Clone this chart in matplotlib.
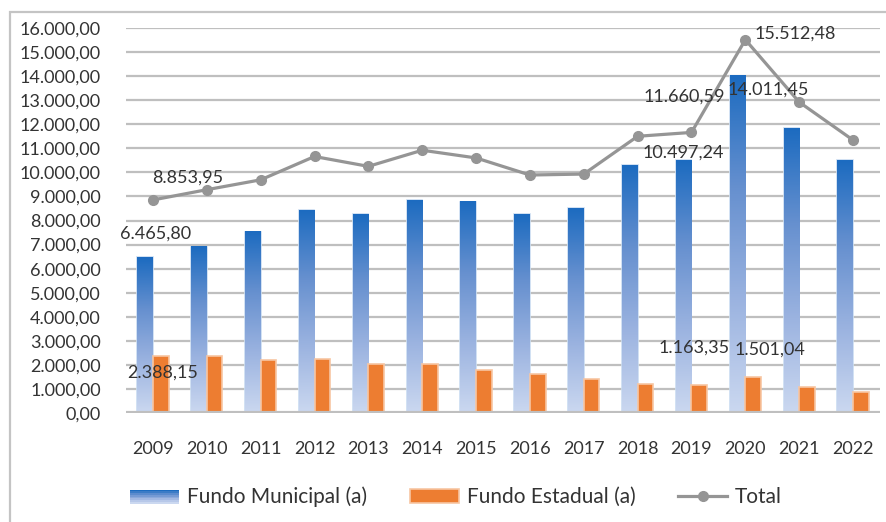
import numpy as np
import matplotlib
matplotlib.use("Agg")
import matplotlib.pyplot as plt
from matplotlib.patches import Rectangle
from matplotlib.lines import Line2D
from matplotlib.legend_handler import HandlerBase
from matplotlib.colors import LinearSegmentedColormap

# data
anos = ['2009', '2010', '2011', '2012', '2013', '2014', '2015', '2016',
        '2017', '2018', '2019', '2020', '2021', '2022']
fundo_municipal = [6465.80, 6900, 7530, 8430, 8260, 8850, 8780, 8250,
                   8500, 10300, 10497.24, 14011.45, 11830, 10510]
fundo_estadual = [2388.15, 2380, 2190, 2260, 2050, 2050, 1780, 1640,
                  1430, 1220, 1163.35, 1501.04, 1080, 870]
total = [8853.95, 9280, 9690, 10660, 10250, 10920, 10600, 9890,
         9930, 11500, 11660.59, 15512.48, 12920, 11340]
y_ticks = list(range(0, 16001, 1000))

plt.rcParams['font.family'] = ['Lato', 'DejaVu Sans']
fs = 13
txt = '#333333'
grid_c = '#bfbfbf'


def fmt(v):
    s = f'{v:,.2f}'
    return s.replace(',', 'X').replace('.', ',').replace('X', '.')


blue_cmap = LinearSegmentedColormap.from_list(
    'azul', ['#cbd8f0', '#9bb3e0', '#6690cf', '#1c6bc0'])

fig = plt.figure(figsize=(8.87, 5.22), dpi=100)
W, H = 887, 522
ax = fig.add_axes([126 / W, 109 / H, (880 - 126) / W, (413 - 28) / H])

x = np.arange(len(anos))
bw = 0.29
xm = x - bw / 2
xe = x + bw / 2

# municipal bars with gradient
ax.bar(xm, fundo_municipal, width=bw, color='none', edgecolor='#c9dcf1',
       linewidth=1.2, zorder=2)
grad = np.linspace(0, 1, 256).reshape(-1, 1)
for xi, v in zip(xm, fundo_municipal):
    ax.imshow(grad, cmap=blue_cmap, origin='lower', aspect='auto',
              extent=[xi - bw / 2, xi + bw / 2, 0, v], zorder=2.5)

ax.bar(xe, fundo_estadual, width=bw, color='#ed7d31', edgecolor='#f7c6a3',
       linewidth=1.2, zorder=3)

ax.plot(x, total, color='#959595', lw=2.3, marker='o', markersize=7,
        zorder=4)

ax.set_xlim(-0.5, len(anos) - 0.5)
ax.set_ylim(0, 16000)
ax.set_yticks(y_ticks)
ax.set_yticklabels([fmt(v) for v in y_ticks])
ax.set_xticks(x)
ax.set_xticklabels(anos)
ax.tick_params(axis='y', length=0, pad=18, labelsize=fs, labelcolor=txt)
ax.tick_params(axis='x', length=0, pad=20, labelsize=fs, labelcolor=txt)
for s in ax.spines.values():
    s.set_visible(False)
ax.yaxis.grid(True, color=grid_c, lw=1.6, zorder=0)
ax.set_axisbelow(True)
ax.axhline(0, color=grid_c, lw=3, zorder=5)

# data labels (offsets in pixels)
labels = [
    (xm[0], fundo_municipal[0], 10, 24),
    (x[0], total[0], 35, 22),
    (xe[0], fundo_estadual[0], 2, -17),
    (xm[10], fundo_municipal[10], 0, 8),
    (x[10], total[10], -7, 36),
    (xe[10], fundo_estadual[10], -5, 37),
    (xm[11], fundo_municipal[11], 31, -14),
    (x[11], total[11], 50, 6),
    (xe[11], fundo_estadual[11], 17, 27),
]
for lx, ly, dx, dy in labels:
    ax.annotate(fmt(ly), (lx, ly), xytext=(dx, dy), textcoords='offset pixels',
                ha='center', va='center', fontsize=fs, color=txt, zorder=6)


class GradHandler(HandlerBase):
    def create_artists(self, legend, orig, xd, yd, width, height, fontsize, trans):
        arts = []
        n = 8
        for k in range(n):
            r = Rectangle((xd, yd + height * k / n), width, height / n,
                          facecolor=blue_cmap(k / (n - 1)), edgecolor='none',
                          transform=trans)
            arts.append(r)
        return arts


h_mun = Rectangle((0, 0), 1, 1)
h_est = Rectangle((0, 0), 1, 1, facecolor='#ed7d31', edgecolor='#f7c6a3', lw=1.2)
h_tot = Line2D([], [], color='#959595', lw=2.3, marker='o', markersize=7)
leg = fig.legend([h_mun, h_est, h_tot],
                 ['Fundo Municipal (a)', 'Fundo Estadual (a)', 'Total'],
                 handler_map={h_mun: GradHandler()},
                 loc='center', bbox_to_anchor=(456 / W, 1 - 497 / H),
                 ncol=3, frameon=False, fontsize=15, labelcolor=txt,
                 handlelength=2.35, handleheight=0.65, handletextpad=0.38,
                 columnspacing=2.05)

# outer chart border
fig.add_artist(Rectangle((10 / W, -0.1), 1.2, 1.1 - 12 / H,
                         transform=fig.transFigure, fill=False,
                         edgecolor='#c4c4c4', lw=1.6))

fig.savefig('out.png', dpi=100)
